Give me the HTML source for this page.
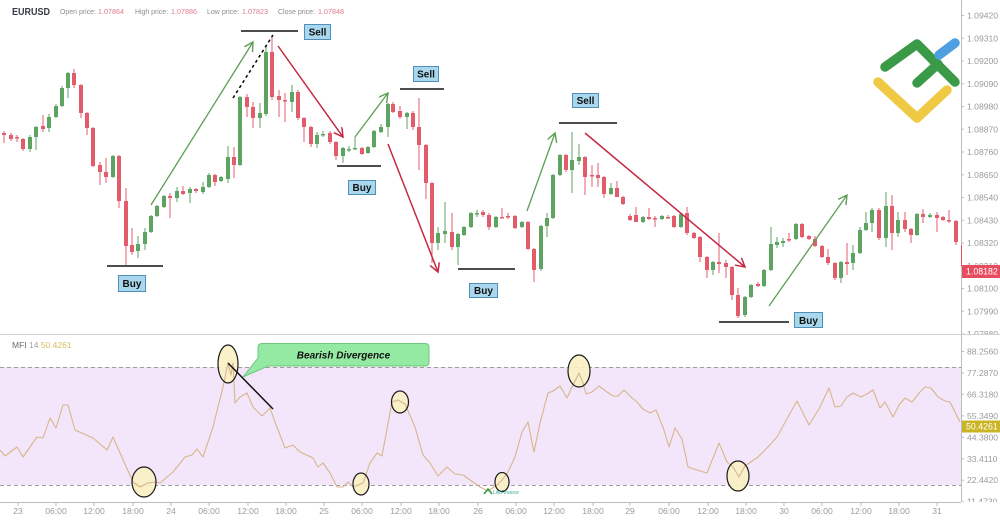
<!DOCTYPE html>
<html><head><meta charset="utf-8"><style>
html,body{margin:0;padding:0;background:#fff;}
svg{display:block;font-family:"Liberation Sans",sans-serif;}
</style></head><body>
<svg width="1000" height="520" viewBox="0 0 1000 520" xmlns="http://www.w3.org/2000/svg">
<defs>
<marker id="ag" markerWidth="12" markerHeight="12" refX="9" refY="5" orient="auto" markerUnits="userSpaceOnUse"><path d="M0,0 L9,5 L0,10" fill="none" stroke="#5e9d58" stroke-width="1.4"/></marker>
<marker id="ar" markerWidth="12" markerHeight="12" refX="9" refY="5" orient="auto" markerUnits="userSpaceOnUse"><path d="M0,0 L9,5 L0,10" fill="none" stroke="#c42a43" stroke-width="1.5"/></marker>
<clipPath id="cp1"><rect x="960" y="0" width="40" height="334"/></clipPath>
<clipPath id="cp2"><rect x="960" y="335" width="40" height="167"/></clipPath>
</defs>
<rect width="1000" height="520" fill="#fff"/>

<!-- header -->
<text x="12" y="15" font-size="10" font-weight="bold" fill="#363b45" textLength="38" lengthAdjust="spacingAndGlyphs">EURUSD</text>
<g font-size="7.5">
<text x="60" y="14" fill="#8c8c8c" textLength="36" lengthAdjust="spacingAndGlyphs">Open price:</text>
<text x="98" y="14" fill="#e07b8b" textLength="26" lengthAdjust="spacingAndGlyphs">1.07864</text>
<text x="135" y="14" fill="#8c8c8c" textLength="33" lengthAdjust="spacingAndGlyphs">High price:</text>
<text x="171" y="14" fill="#e07b8b" textLength="26" lengthAdjust="spacingAndGlyphs">1.07886</text>
<text x="207" y="14" fill="#8c8c8c" textLength="32" lengthAdjust="spacingAndGlyphs">Low price:</text>
<text x="242" y="14" fill="#e07b8b" textLength="26" lengthAdjust="spacingAndGlyphs">1.07823</text>
<text x="278" y="14" fill="#8c8c8c" textLength="37" lengthAdjust="spacingAndGlyphs">Close price:</text>
<text x="318" y="14" fill="#e07b8b" textLength="26" lengthAdjust="spacingAndGlyphs">1.07848</text>
</g>

<!-- logo -->
<g fill="none" stroke-linecap="round" stroke-linejoin="round" stroke-width="9.5">
<polyline points="878,82 917,118 947,90" stroke="#f0c944"/>
<polyline points="885,67 917,44 955,82" stroke="#3b9a48"/>
<line x1="917" y1="83" x2="938" y2="64" stroke="#3b9a48"/>
<line x1="939" y1="55" x2="955" y2="43" stroke="#4d9fe2"/>
</g>

<!-- candles -->
<g stroke-width="1">
<path stroke="#5da463" fill="none" d="M30 135V152M36 126V150M49 114V132M56 104V118M62 86V107M68 72V98M113 155V178M138 236V258M145 228V250M151 215V233M157 205V217M164 195V208M177 187V202M190 187V203M203 182V194M209 173V188M221 176V182M228 146V183M240 96V166M260 103V128M266 47V116M292 85V112M317 132V148M323 131V137M343 147V163M349 146V152M355 137V150M368 146V154M374 130V148M381 124V133M388 103V137M407 112V129M438 227V250M445 202V243M458 233V265M464 226V236M471 212V228M477 210V217M496 216V228M522 221V228M541 225V271M547 213V237M553 174V219M560 154V176M572 132V193M579 144V165M611 183V195M643 216V223M662 215V220M681 213V228M713 261V275M745 296V317M751 284V298M764 269V287M771 227V271M777 237V248M783 238V247M796 223V240M841 261V283M853 245V270M860 227V254M866 212V231M872 208V232M886 192V247M898 212V237M917 213V236M930 213V218"/>
<path fill="#5da463" d="M28 137h4V149h-4zM34 127h4V137h-4zM47 117h4V128h-4zM54 106h4V117h-4zM60 88h4V106h-4zM66 73h4V88h-4zM111 156h4V177h-4zM136 244h4V251h-4zM143 232h4V244h-4zM149 216h4V232h-4zM155 206h4V216h-4zM162 196h4V207h-4zM175 191h4V198h-4zM188 189h4V193h-4zM201 187h4V192h-4zM207 175h4V187h-4zM219 177h4V181h-4zM226 157h4V179h-4zM238 97h4V165h-4zM258 113h4V118h-4zM264 52h4V114h-4zM290 92h4V102h-4zM315 135h4V144h-4zM321 134h4V135.5h-4zM341 148h4V156h-4zM347 149h4V150.5h-4zM353 148h4V149.5h-4zM366 147h4V153h-4zM372 131h4V147h-4zM379 127h4V132h-4zM386 104h4V127h-4zM405 113h4V117h-4zM436 233h4V243h-4zM443 231h4V234h-4zM456 234h4V247h-4zM462 227h4V235h-4zM469 213h4V227h-4zM475 213h4V214.5h-4zM494 217h4V227h-4zM520 222h4V227h-4zM539 226h4V269h-4zM545 218h4V226h-4zM551 175h4V218h-4zM558 155h4V175h-4zM570 160h4V170h-4zM577 157h4V161h-4zM609 188h4V194h-4zM641 217h4V222h-4zM660 216h4V219h-4zM679 214h4V227h-4zM711 262h4V270h-4zM743 297h4V315h-4zM749 285h4V297h-4zM762 270h4V286h-4zM769 244h4V270h-4zM775 242h4V245h-4zM781 241h4V243h-4zM794 224h4V239h-4zM839 262h4V278h-4zM851 253h4V263h-4zM858 230h4V253h-4zM864 223h4V230h-4zM870 210h4V223h-4zM884 206h4V238h-4zM896 220h4V233h-4zM915 214h4V235h-4zM928 215h4V217h-4z"/>
<path stroke="#e35c6c" fill="none" d="M4 131V143M11 133V141M17 135V142M23 138V151M43 115V132M74 69V88M81 84V118M87 112V135M93 127V167M100 162V185M106 158V183M119 155V208M126 188V265M132 228V255M170 193V218M183 186V195M196 188V193M215 174V186M234 147V178M247 94V117M253 102V128M272 36V100M279 90V117M285 93V122M298 90V120M304 117V142M311 126V147M330 131V144M336 141V160M362 147V155M393 102V113M400 106V119M413 111V130M419 98V170M426 144V199M432 182V263M452 213V250M483 210V217M489 213V230M502 208V218.5M508 213V219M515 215V229M528 221V250M534 248V282M566 154V172M585 156V195M592 165V187M598 163V187M604 176V198M617 181V197M623 196V205M630 214V221M636 207V222M649 208V220M655 216V227M668 215V219M674 215V228M687 207V235M694 232V239M700 236V262M707 256V278M719 233V273M726 260V278M732 266V300M738 288V318M758 282V287M789 233V242M802 223V238M809 235V240M815 236V247M822 245V258M828 249V265M835 262V280M847 243V275M879 208V240M892 195V250M905 212V232M911 228V243M923 209V223M937 212V232M943 216V221M949 210V223M956 220V245"/>
<path fill="#e35c6c" d="M2 133h4V135h-4zM9 135h4V139h-4zM15 137h4V138.5h-4zM21 139h4V149h-4zM41 126h4V129h-4zM72 73h4V85h-4zM79 85h4V113h-4zM85 113h4V128h-4zM91 128h4V166h-4zM98 165h4V172h-4zM104 172h4V177h-4zM117 156h4V201h-4zM124 201h4V246h-4zM130 245h4V252h-4zM168 196h4V198h-4zM181 191h4V194h-4zM194 189h4V191h-4zM213 175h4V182h-4zM232 157h4V165h-4zM245 97h4V107h-4zM251 107h4V118h-4zM270 52h4V97h-4zM277 96h4V100h-4zM283 100h4V101.5h-4zM296 92h4V118h-4zM302 118h4V127h-4zM309 127h4V144h-4zM328 133h4V142h-4zM334 142h4V156h-4zM360 148h4V154h-4zM391 104h4V112h-4zM398 111h4V117h-4zM411 113h4V127h-4zM417 127h4V145h-4zM424 145h4V183h-4zM430 183h4V243h-4zM450 232h4V247h-4zM481 212h4V215h-4zM487 215h4V227h-4zM500 217h4V218.5h-4zM506 216h4V217.5h-4zM513 216h4V228h-4zM526 222h4V249h-4zM532 249h4V270h-4zM564 155h4V170h-4zM583 157h4V177h-4zM590 175h4V176.5h-4zM596 175h4V178h-4zM602 177h4V194h-4zM615 188h4V197h-4zM621 197h4V204h-4zM628 216h4V220h-4zM634 215h4V222h-4zM647 217h4V219h-4zM653 218h4V219.5h-4zM666 217h4V218.5h-4zM672 216h4V227h-4zM685 213h4V233h-4zM692 233h4V238h-4zM698 237h4V257h-4zM705 257h4V270h-4zM717 262h4V264h-4zM724 263h4V267h-4zM730 267h4V295h-4zM736 295h4V316h-4zM756 284h4V286h-4zM787 239h4V240.5h-4zM800 224h4V237h-4zM807 236h4V239h-4zM813 239h4V246h-4zM820 246h4V257h-4zM826 257h4V263h-4zM833 263h4V278h-4zM845 262h4V264h-4zM877 210h4V238h-4zM890 206h4V233h-4zM903 220h4V229h-4zM909 229h4V235h-4zM921 214h4V217h-4zM935 215h4V218h-4zM941 217h4V220h-4zM947 220h4V221.5h-4zM954 221h4V242h-4z"/>
</g>

<!-- annotations: lines & arrows -->
<g stroke="#111" stroke-width="1.6">
<line x1="107" y1="266" x2="163" y2="266"/>
<line x1="241" y1="31" x2="298" y2="31"/>
<line x1="337" y1="166" x2="381" y2="166"/>
<line x1="400" y1="89" x2="444" y2="89"/>
<line x1="458" y1="269" x2="515" y2="269"/>
<line x1="559" y1="123" x2="617" y2="123"/>
<line x1="719" y1="322" x2="789" y2="322"/>
<line x1="233" y1="98" x2="273" y2="35" stroke-dasharray="3,3" stroke-width="1.6"/>
</g>
<g fill="none" stroke-width="1.3">
<line x1="151" y1="205" x2="253" y2="42" stroke="#5e9d58" marker-end="url(#ag)"/>
<line x1="355" y1="137" x2="388" y2="93" stroke="#5e9d58" marker-end="url(#ag)"/>
<line x1="527" y1="211" x2="555" y2="133" stroke="#5e9d58" marker-end="url(#ag)"/>
<line x1="769" y1="306" x2="847" y2="195" stroke="#5e9d58" marker-end="url(#ag)"/>
<line x1="278" y1="46" x2="343" y2="137" stroke="#c42a43" stroke-width="1.5" marker-end="url(#ar)"/>
<line x1="388" y1="144" x2="438" y2="272" stroke="#c42a43" stroke-width="1.5" marker-end="url(#ar)"/>
<line x1="585" y1="133" x2="745" y2="267" stroke="#c42a43" stroke-width="1.5" marker-end="url(#ar)"/>
</g>

<!-- buy/sell boxes -->
<g fill="#a9d7ee" stroke="#4f8fb8" stroke-width="1">
<rect x="118.5" y="275.5" width="27" height="16"/>
<rect x="304.5" y="24.5" width="26" height="15"/>
<rect x="348.5" y="180.5" width="27" height="14"/>
<rect x="413.5" y="66.5" width="25" height="15"/>
<rect x="469.5" y="283.5" width="28" height="14"/>
<rect x="572.5" y="93.5" width="26" height="14"/>
<rect x="794.5" y="312.5" width="28" height="15"/>
</g>
<g font-size="10" font-weight="bold" fill="#111" text-anchor="middle">
<text x="132" y="287">Buy</text>
<text x="317.5" y="35.5">Sell</text>
<text x="362" y="191">Buy</text>
<text x="426" y="77.5">Sell</text>
<text x="483.5" y="294">Buy</text>
<text x="585.5" y="104">Sell</text>
<text x="808.5" y="324">Buy</text>
</g>

<!-- price axis -->
<line x1="961.5" y1="0" x2="961.5" y2="502" stroke="#bdbdbd" stroke-width="1"/>
<g clip-path="url(#cp1)" font-size="8.6" fill="#9a9a9a">
<g stroke="#bdbdbd"><path d="M961 15.5h3M961 38.3h3M961 61h3M961 83.8h3M961 106.5h3M961 129.3h3M961 152h3M961 174.8h3M961 197.5h3M961 220.3h3M961 243h3M961 265.8h3M961 288.5h3M961 311.3h3M961 334h3"/></g>
<text x="967" y="18.5">1.09420</text>
<text x="967" y="41.3">1.09310</text>
<text x="967" y="64">1.09200</text>
<text x="967" y="86.8">1.09090</text>
<text x="967" y="109.5">1.08980</text>
<text x="967" y="132.3">1.08870</text>
<text x="967" y="155">1.08760</text>
<text x="967" y="177.8">1.08650</text>
<text x="967" y="200.5">1.08540</text>
<text x="967" y="223.3">1.08430</text>
<text x="967" y="246">1.08320</text>
<text x="967" y="268.8">1.08210</text>
<text x="967" y="291.5">1.08100</text>
<text x="967" y="314.3">1.07990</text>
<text x="967" y="337">1.07880</text>
</g>
<line x1="961.5" y1="245" x2="961.5" y2="266" stroke="#e84c5f" stroke-width="1"/>
<rect x="962" y="265" width="38" height="13" fill="#e84c5f"/>
<text x="966" y="274.6" font-size="8.8" fill="#fff">1.08182</text>

<!-- panel separator -->
<line x1="0" y1="334.5" x2="1000" y2="334.5" stroke="#d2d2d2" stroke-width="1"/>

<!-- MFI panel -->
<text x="12" y="348" font-size="8.5"><tspan fill="#6b6b6b">MFI</tspan><tspan fill="#a0a0a0"> 14 </tspan><tspan fill="#d6bf5c">50.4261</tspan></text>
<rect x="0" y="367" width="961" height="118" fill="#f3e6fa"/>
<g stroke="#9c9c9c" stroke-width="1" stroke-dasharray="4,3">
<line x1="0" y1="367.5" x2="961" y2="367.5"/>
<line x1="0" y1="485.5" x2="961" y2="485.5"/>
</g>

<!-- ellipse fills -->
<g fill="#faf0c2" fill-opacity="0.9">
<ellipse cx="144" cy="482" rx="12" ry="15"/>
<ellipse cx="228" cy="364" rx="10" ry="19"/>
<ellipse cx="361" cy="484" rx="8" ry="11"/>
<ellipse cx="400" cy="402" rx="8.5" ry="11"/>
<ellipse cx="502" cy="482" rx="7" ry="9.5"/>
<ellipse cx="579" cy="371" rx="11" ry="16"/>
<ellipse cx="738" cy="476" rx="11" ry="15"/>
</g>

<!-- MFI line -->
<polyline fill="none" stroke="#d7b68c" stroke-width="1.1" stroke-linejoin="round" points="0,450 5,456 17,447 23,457 37,437 43,438 50,418 56,428 63,405 68,405 75,430 93,438 107,450 113,437 133,482 140,487 148,483 155,482 160,483 173,472 185,457 192,455 197,449 203,457 213,427 223,387 228,363 231,375 233,363 235,403 240,397 247,393 253,407 262,416 270,408 275,422 285,448 293,445 300,452 313,458 318,467 323,463 330,473 337,487 343,487 348,482 353,487 358,485 363,483 370,463 377,453 382,456 392,402 398,400 405,404 415,427 423,455 430,463 438,476 447,467 455,474 463,475 473,482 480,487 488,491 497,485 502,480 508,472 515,457 522,432 528,422 534,452 540,423 548,393 553,391 560,386 567,398 573,385 579,373 583,383 586,394 592,392 599,386 607,392 613,396 618,396 624,390 632,398 637,402 643,409 650,413 656,410 663,427 669,447 675,428 682,439 688,467 697,470 707,473 719,443 727,462 733,467 739,477 745,466 758,457 767,448 777,437 788,417 797,401 809,425 820,407 829,388 835,407 841,406 847,397 853,393 861,397 867,394 873,390 880,408 885,402 893,417 899,405 905,398 912,402 920,392 925,387 931,388 938,397 945,401 950,402 960,422"/>

<!-- ellipse strokes -->
<g fill="none" stroke="#1a1a1a" stroke-width="1.2">
<ellipse cx="144" cy="482" rx="12" ry="15"/>
<ellipse cx="228" cy="364" rx="10" ry="19"/>
<ellipse cx="361" cy="484" rx="8" ry="11"/>
<ellipse cx="400" cy="402" rx="8.5" ry="11"/>
<ellipse cx="502" cy="482" rx="7" ry="9.5"/>
<ellipse cx="579" cy="371" rx="11" ry="16"/>
<ellipse cx="738" cy="476" rx="11" ry="15"/>
</g>

<!-- divergence -->
<line x1="228" y1="363" x2="273" y2="409" stroke="#111" stroke-width="1.5"/>
<path d="M262 343.5H425Q429 343.5 429 347.5V362Q429 366 425 366H268L243 377L258 358V347.5Q258 343.5 262 343.5Z" fill="#94e9a3" stroke="#6fc680" stroke-width="1"/>
<text x="343.5" y="358.5" font-size="10" font-weight="bold" font-style="italic" fill="#111" text-anchor="middle">Bearish Divergence</text>

<!-- watermark -->
<g>
<polyline points="484,494 488,489 492,494" fill="none" stroke="#3b9a48" stroke-width="1.6"/>
<text x="493" y="494" font-size="5" font-style="italic" fill="#3fae9a">LiteFinance</text>
</g>

<!-- MFI axis -->
<g clip-path="url(#cp2)" font-size="8.6" fill="#9a9a9a">
<g stroke="#bdbdbd"><path d="M961 351.5h3M961 373h3M961 394.4h3M961 415.9h3M961 437.3h3M961 458.8h3M961 480.2h3M961 501.7h3"/></g>
<text x="967" y="354.5">88.2560</text>
<text x="967" y="376">77.2870</text>
<text x="967" y="397.4">66.3180</text>
<text x="967" y="418.9">55.3490</text>
<text x="967" y="440.3">44.3800</text>
<text x="967" y="461.8">33.4110</text>
<text x="967" y="483.2">22.4420</text>
<text x="967" y="504.7">11.4730</text>
</g>
<rect x="962" y="420.5" width="38" height="12" fill="#c9b523"/>
<text x="966" y="429.6" font-size="8.8" fill="#fff">50.4261</text>

<!-- time axis -->
<line x1="0" y1="502.5" x2="961" y2="502.5" stroke="#bdbdbd" stroke-width="1"/>
<path stroke="#bdbdbd" d="M18 502v4M56 502v4M94 502v4M133 502v4M171 502v4M209 502v4M248 502v4M286 502v4M324 502v4M362 502v4M401 502v4M439 502v4M478 502v4M516 502v4M554 502v4M593 502v4M630 502v4M669 502v4M708 502v4M746 502v4M784 502v4M822 502v4M861 502v4M899 502v4M937 502v4"/>
<g font-size="8.6" fill="#9a9a9a" text-anchor="middle">
<text x="18" y="514">23</text><text x="56" y="514">06:00</text><text x="94" y="514">12:00</text><text x="133" y="514">18:00</text>
<text x="171" y="514">24</text><text x="209" y="514">06:00</text><text x="248" y="514">12:00</text><text x="286" y="514">18:00</text>
<text x="324" y="514">25</text><text x="362" y="514">06:00</text><text x="401" y="514">12:00</text><text x="439" y="514">18:00</text>
<text x="478" y="514">26</text><text x="516" y="514">06:00</text><text x="554" y="514">12:00</text><text x="593" y="514">18:00</text>
<text x="630" y="514">29</text><text x="669" y="514">06:00</text><text x="708" y="514">12:00</text><text x="746" y="514">18:00</text>
<text x="784" y="514">30</text><text x="822" y="514">06:00</text><text x="861" y="514">12:00</text><text x="899" y="514">18:00</text>
<text x="937" y="514">31</text>
</g>
</svg>
</body></html>
